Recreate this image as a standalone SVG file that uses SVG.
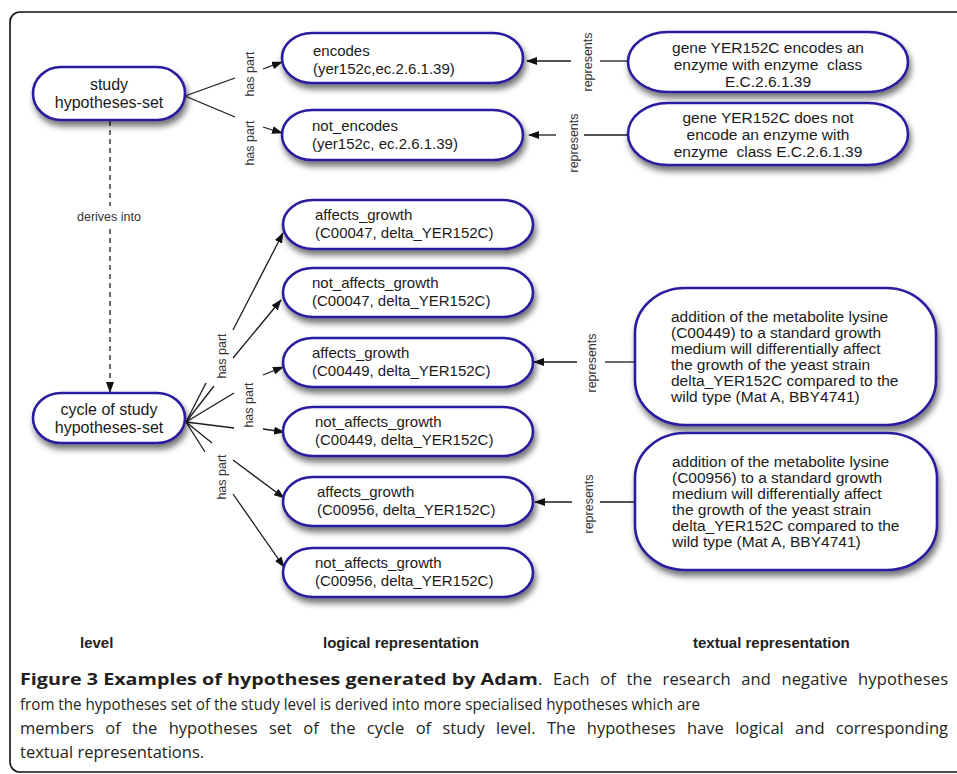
<svg xmlns="http://www.w3.org/2000/svg" width="957" height="774" viewBox="0 0 957 774">
<style>
.node{fill:#fff;stroke:#2b1f9e;stroke-width:2.6;filter:url(#sh)}
.t{font-family:"Liberation Sans",Arial,sans-serif;fill:#1a1a1a}
.n15{font-size:15px}
.n16{font-size:16px}
.tx{font-size:15.5px}
.lab{font-family:"Liberation Sans",Arial,sans-serif;font-size:12.5px;fill:#333;text-anchor:middle}
.c{stroke:#1a1a1a;stroke-width:1.3;fill:none}
.a{marker-end:url(#ah)}
.d{stroke-dasharray:5 4}
.bold{font-family:"Liberation Sans",Arial,sans-serif;font-weight:bold;font-size:15px;fill:#222}
.cap{font-family:"Open Sans","Noto Sans",sans-serif;font-size:16.5px;fill:#231f20}
</style>
<defs>
<filter id="sh" x="-15%" y="-30%" width="135%" height="175%">
<feDropShadow dx="2" dy="5" stdDeviation="3" flood-color="#000" flood-opacity="0.55"/>
</filter>
<marker id="ah" markerUnits="userSpaceOnUse" markerWidth="11" markerHeight="8" refX="10" refY="4" orient="auto">
<path d="M0,0 L11,4 L0,8 z" fill="#111"/>
</marker>
</defs>
<rect width="957" height="774" fill="#fff"/>
<rect x="10" y="12" width="970" height="760" rx="10" ry="10" fill="none" stroke="#111" stroke-width="1.6"/>

<g id="connectors">
<line class="c" x1="185" y1="96" x2="235" y2="78"/>
<line class="c" x1="185" y1="96" x2="235" y2="117"/>
<line class="c a" x1="263" y1="69" x2="282" y2="62"/>
<line class="c a" x1="263" y1="127" x2="282" y2="133"/>
<text class="lab" transform="translate(254,74) rotate(-90)">has part</text>
<text class="lab" transform="translate(254,143) rotate(-90)">has part</text>
<line class="c" x1="628" y1="61" x2="600" y2="61"/>
<line class="c a" x1="571" y1="61" x2="527" y2="61"/>
<text class="lab" transform="translate(592,62) rotate(-90)">represents</text>
<line class="c" x1="628" y1="135" x2="584" y2="135"/>
<line class="c a" x1="556" y1="135" x2="529" y2="135"/>
<text class="lab" transform="translate(578,143) rotate(-90)">represents</text>
<line class="c d" x1="110" y1="121" x2="110" y2="206"/>
<text class="lab" x="109" y="221">derives into</text>
<line class="c d a" x1="110" y1="229" x2="110" y2="392"/>
<line class="c" x1="186" y1="422" x2="206" y2="383"/>
<line class="c" x1="186" y1="422" x2="214" y2="386"/>
<line class="c" x1="186" y1="422" x2="234" y2="393"/>
<line class="c" x1="186" y1="422" x2="234" y2="428"/>
<line class="c" x1="186" y1="422" x2="212" y2="443"/>
<line class="c" x1="186" y1="422" x2="205" y2="452"/>
<line class="c a" x1="233" y1="330" x2="283" y2="233"/>
<line class="c a" x1="233" y1="358" x2="281" y2="300"/>
<line class="c a" x1="263" y1="375" x2="283" y2="367"/>
<line class="c a" x1="263" y1="429" x2="284" y2="432"/>
<line class="c a" x1="233" y1="460" x2="284" y2="498"/>
<line class="c a" x1="233" y1="494" x2="284" y2="567"/>
<text class="lab" transform="translate(226,356) rotate(-90)">has part</text>
<text class="lab" transform="translate(253,405) rotate(-90)">has part</text>
<text class="lab" transform="translate(226,477) rotate(-90)">has part</text>
<line class="c" x1="635" y1="362" x2="605" y2="362"/>
<line class="c a" x1="577" y1="362" x2="534" y2="362"/>
<text class="lab" transform="translate(596,363) rotate(-90)">represents</text>
<line class="c" x1="635" y1="502" x2="600" y2="502"/>
<line class="c a" x1="572" y1="502" x2="535" y2="502"/>
<text class="lab" transform="translate(593,504) rotate(-90)">represents</text>
</g>

<g id="n-study">
<rect class="node" x="33" y="67" width="152" height="53" rx="28" ry="26.5"/>
<text class="t n16" x="109" y="90" text-anchor="middle">study</text>
<text class="t n16" x="109" y="108" text-anchor="middle">hypotheses-set</text>
</g>
<g id="n-cycle">
<rect class="node" x="33" y="393" width="152" height="50" rx="28" ry="25"/>
<text class="t n16" x="109" y="415" text-anchor="middle">cycle of study</text>
<text class="t n16" x="109" y="433" text-anchor="middle">hypotheses-set</text>
</g>
<g id="n-encodes">
<rect class="node" x="282" y="33" width="241" height="50" rx="30" ry="25"/>
<text class="t n15" x="313" y="56">encodes</text>
<text class="t n15" x="313" y="74">(yer152c,ec.2.6.1.39)</text>
</g>
<g id="n-notencodes">
<rect class="node" x="282" y="110" width="241" height="50" rx="30" ry="25"/>
<text class="t n15" x="312" y="131">not_encodes</text>
<text class="t n15" x="312" y="149">(yer152c, ec.2.6.1.39)</text>
</g>
<g id="n-txt1">
<rect class="node" x="628" y="32" width="280" height="60" rx="40" ry="30"/>
<text class="t tx" x="768" y="53" text-anchor="middle">gene YER152C encodes an</text>
<text class="t tx" x="768" y="70" text-anchor="middle" xml:space="preserve">enzyme with enzyme  class</text>
<text class="t tx" x="768" y="87" text-anchor="middle">E.C.2.6.1.39</text>
</g>
<g id="n-txt2">
<rect class="node" x="628" y="103" width="280" height="62" rx="40" ry="31"/>
<text class="t tx" x="768" y="123" text-anchor="middle">gene YER152C does not</text>
<text class="t tx" x="768" y="140" text-anchor="middle">encode an enzyme with</text>
<text class="t tx" x="768" y="157" text-anchor="middle" xml:space="preserve">enzyme  class E.C.2.6.1.39</text>
</g>
<g id="n-ag47">
<rect class="node" x="283" y="200" width="250" height="49" rx="30" ry="24.5"/>
<text class="t n15" x="315" y="220">affects_growth</text>
<text class="t n15" x="315" y="238">(C00047, delta_YER152C)</text>
</g>
<g id="n-nag47">
<rect class="node" x="283" y="268" width="250" height="49" rx="30" ry="24.5"/>
<text class="t n15" x="312" y="288">not_affects_growth</text>
<text class="t n15" x="312" y="306">(C00047, delta_YER152C)</text>
</g>
<g id="n-ag449">
<rect class="node" x="283" y="338" width="250" height="49" rx="30" ry="24.5"/>
<text class="t n15" x="312" y="358">affects_growth</text>
<text class="t n15" x="312" y="376">(C00449, delta_YER152C)</text>
</g>
<g id="n-nag449">
<rect class="node" x="283" y="407" width="250" height="49" rx="30" ry="24.5"/>
<text class="t n15" x="315" y="427">not_affects_growth</text>
<text class="t n15" x="315" y="445">(C00449, delta_YER152C)</text>
</g>
<g id="n-ag956">
<rect class="node" x="283" y="477" width="250" height="49" rx="30" ry="24.5"/>
<text class="t n15" x="317" y="497">affects_growth</text>
<text class="t n15" x="317" y="515">(C00956, delta_YER152C)</text>
</g>
<g id="n-nag956">
<rect class="node" x="283" y="548" width="250" height="49" rx="30" ry="24.5"/>
<text class="t n15" x="315" y="568">not_affects_growth</text>
<text class="t n15" x="315" y="586">(C00956, delta_YER152C)</text>
</g>
<g id="n-txtA">
<rect class="node" x="635" y="288" width="301" height="137" rx="50" ry="45"/>
<text class="t tx" x="671" y="322">addition of the metabolite lysine</text>
<text class="t tx" x="671" y="338">(C00449) to a standard growth</text>
<text class="t tx" x="671" y="354">medium will differentially affect</text>
<text class="t tx" x="671" y="370">the growth of the yeast strain</text>
<text class="t tx" x="671" y="386">delta_YER152C compared to the</text>
<text class="t tx" x="671" y="402">wild type (Mat A, BBY4741)</text>
</g>
<g id="n-txtB">
<rect class="node" x="635" y="433" width="302" height="137" rx="50" ry="45"/>
<text class="t tx" x="672" y="467">addition of the metabolite lysine</text>
<text class="t tx" x="672" y="483">(C00956) to a standard growth</text>
<text class="t tx" x="672" y="499">medium will differentially affect</text>
<text class="t tx" x="672" y="515">the growth of the yeast strain</text>
<text class="t tx" x="672" y="531">delta_YER152C compared to the</text>
<text class="t tx" x="672" y="547">wild type (Mat A, BBY4741)</text>
</g>

<g id="column-labels">
<text class="bold" x="80" y="648">level</text>
<text class="bold" x="323" y="648">logical representation</text>
<text class="bold" x="693" y="648">textual representation</text>
</g>

<g id="caption">
<text class="cap" x="20" y="685" font-weight="bold" textLength="518" lengthAdjust="spacingAndGlyphs">Figure 3 Examples of hypotheses generated by Adam</text>
<text class="cap" x="538" y="685" style="word-spacing:6px" textLength="410" lengthAdjust="spacing">. Each of the research and negative hypotheses</text>
<text class="cap" x="20" y="710" textLength="680" lengthAdjust="spacingAndGlyphs">from the hypotheses set of the study level is derived into more specialised hypotheses which are</text>
<text class="cap" x="20" y="734" style="word-spacing:7px" textLength="928" lengthAdjust="spacing">members of the hypotheses set of the cycle of study level. The hypotheses have logical and corresponding</text>
<text class="cap" x="20" y="758">textual representations.</text>
</g>
</svg>
